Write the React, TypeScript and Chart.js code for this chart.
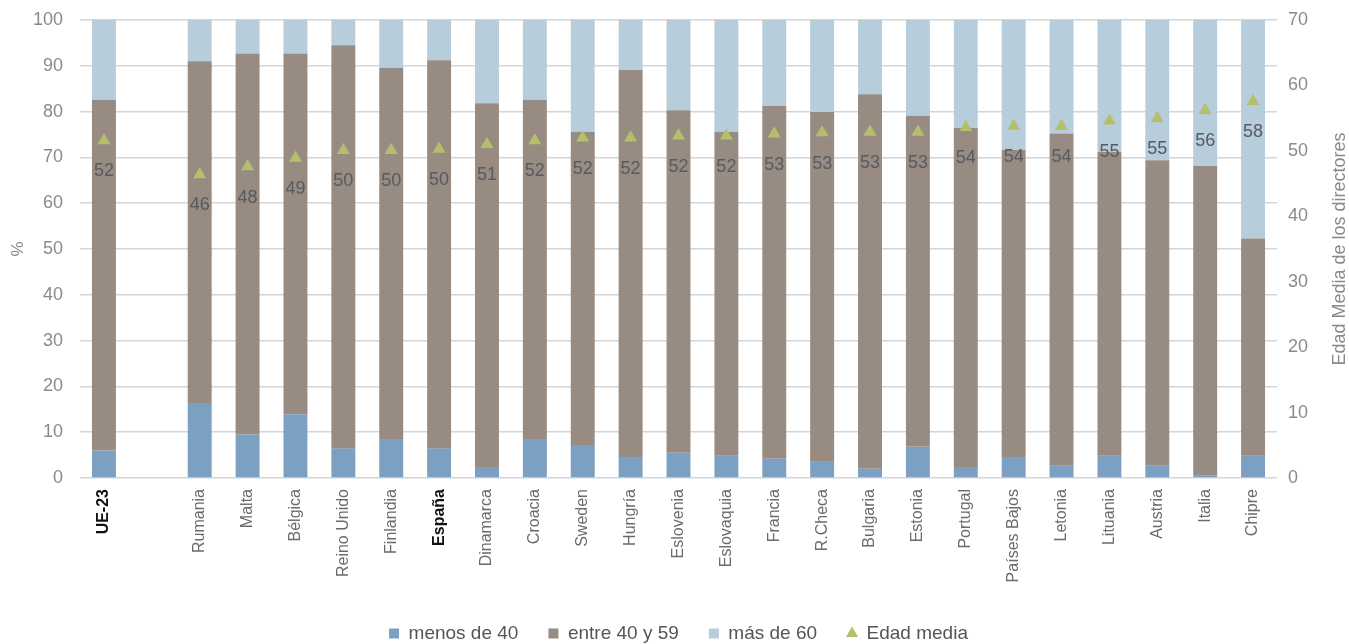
import { useEffect, useRef } from "react";
import { Chart, registerables } from "chart.js";

Chart.register(...registerables);

const categories = [
  "UE-23", "", "Rumania", "Malta", "Bélgica", "Reino Unido", "Finlandia", "España",
  "Dinamarca", "Croacia", "Sweden", "Hungría", "Eslovenia", "Eslovaquia", "Francia",
  "R.Checa", "Bulgaria", "Estonia", "Portugal", "Países Bajos", "Letonia", "Lituania",
  "Austria", "Italia", "Chipre",
];

const menos40 = [6.0, null, 16.4, 9.5, 13.9, 6.4, 8.5, 6.4, 2.4, 8.5, 7.2, 4.6, 5.5, 5.0, 4.2, 3.7, 2.0, 6.8, 2.4, 4.6, 2.8, 5.0, 2.8, 0.5, 5.0];
const entre40y59 = [76.6, null, 74.6, 83.2, 78.8, 88.1, 81.1, 84.8, 79.4, 74.1, 68.4, 84.5, 74.8, 70.6, 77.0, 76.2, 81.8, 72.3, 74.0, 67.0, 72.4, 66.2, 66.6, 67.6, 47.3];
const mas60 = [17.4, null, 9.0, 7.3, 7.3, 5.5, 10.4, 8.8, 18.2, 17.4, 24.4, 10.9, 19.7, 24.4, 18.8, 20.1, 16.2, 20.9, 23.6, 28.4, 24.8, 28.8, 30.6, 31.9, 47.7];
const edadMedia = [51.6, null, 46.4, 47.6, 48.9, 50.1, 50.1, 50.3, 51.0, 51.6, 52.0, 52.0, 52.3, 52.3, 52.6, 52.8, 52.9, 52.9, 53.6, 53.8, 53.8, 54.6, 55.0, 56.2, 57.6];

const leftTicks = [0, 10, 20, 30, 40, 50, 60, 70, 80, 90, 100];
const rightTicks = [0, 10, 20, 30, 40, 50, 60, 70];
const boldCategories = ["UE-23", "España"];

const FONT = "'Liberation Sans', Arial, sans-serif";

export default function App() {
  const ref = useRef<HTMLCanvasElement | null>(null);

  useEffect(() => {
    if (!ref.current) return;

    const labelPlugin = {
      id: "edadLabels",
      afterDatasetsDraw(chart: any) {
        const meta = chart.getDatasetMeta(3);
        const ctx = chart.ctx;
        ctx.save();
        ctx.font = `18px ${FONT}`;
        ctx.fillStyle = "#575a5f";
        ctx.textAlign = "center";
        ctx.textBaseline = "middle";
        meta.data.forEach((pt: any, i: number) => {
          const v = edadMedia[i];
          if (v == null) return;
          ctx.fillText(String(Math.round(v)), pt.x, pt.y + 31);
        });
        ctx.restore();
      },
    };

    const rightTitlePlugin = {
      id: "rightTitle",
      afterDraw(chart: any) {
        const ctx = chart.ctx;
        const area = chart.chartArea;
        ctx.save();
        ctx.translate(1340, (area.top + area.bottom) / 2);
        ctx.rotate(-Math.PI / 2);
        ctx.font = `18px ${FONT}`;
        ctx.fillStyle = "#8a8a8a";
        ctx.textAlign = "center";
        ctx.textBaseline = "middle";
        ctx.fillText("Edad Media de los directores", 0, 0);
        ctx.restore();
      },
    };

    const chart = new Chart(ref.current, {
      type: "bar",
      data: {
        labels: categories,
        datasets: [
          {
            label: "menos de 40",
            data: menos40,
            backgroundColor: "#7ba0c1",
            stack: "s",
            yAxisID: "y",
            order: 2,
            pointStyle: "rect",
          },
          {
            label: "entre 40 y 59",
            data: entre40y59,
            backgroundColor: "#978b82",
            stack: "s",
            yAxisID: "y",
            order: 2,
            pointStyle: "rect",
          },
          {
            label: "más de 60",
            data: mas60,
            backgroundColor: "#b8cddc",
            stack: "s",
            yAxisID: "y",
            order: 2,
            pointStyle: "rect",
          },
          {
            type: "line",
            label: "Edad media",
            data: edadMedia,
            yAxisID: "y1",
            showLine: false,
            pointStyle: "triangle",
            pointRadius: 7.5,
            pointBackgroundColor: "#b4bf6c",
            pointBorderColor: "#b4bf6c",
            backgroundColor: "#b4bf6c",
            borderColor: "#b4bf6c",
            pointBorderWidth: 0,
            order: 0,
          } as any,
        ],
      },
      options: {
        animation: false,
        responsive: true,
        maintainAspectRatio: false,
        layout: { padding: { top: 20, right: 0, left: 8, bottom: -9 } },
        datasets: { bar: { barPercentage: 0.5, categoryPercentage: 1.0 } },
        plugins: {
          tooltip: { enabled: false },
          legend: {
            position: "bottom",
            labels: {
              usePointStyle: true,
              boxWidth: 10,
              boxHeight: 10,
              padding: 30,
              color: "#555555",
              font: { family: FONT, size: 19 },
              sort: (a: any, b: any) => a.datasetIndex - b.datasetIndex,
            },
          },
        },
        scales: {
          x: {
            stacked: true,
            grid: { display: false, drawTicks: false, tickLength: 0 },
            border: { display: false },
            afterFit: (s: any) => {
              s.height = 116;
            },
            ticks: {
              autoSkip: false,
              minRotation: 90,
              maxRotation: 90,
              padding: 11,
              color: (c: any) => (boldCategories.includes(categories[c.index]) ? "#111111" : "#6b6b6b"),
              font: (c: any) => ({
                family: FONT,
                size: 16,
                weight: boldCategories.includes(categories[c.index]) ? "bold" : "normal",
              }),
            },
          },
          y: {
            stacked: true,
            min: 0,
            max: 100,
            position: "left",
            afterBuildTicks: (s: any) => {
              s.ticks = leftTicks.map((v) => ({ value: v }));
            },
            afterFit: (s: any) => {
              s.width = 72;
              s.paddingTop = 0;
              s.paddingBottom = 0;
            },
            grid: { color: "#d2d5da", lineWidth: 1.5, drawTicks: false },
            border: { display: false },
            title: {
              display: true,
              text: "%",
              color: "#8a8a8a",
              font: { family: FONT, size: 17 },
              padding: { top: 0, bottom: 0 },
            },
            ticks: {
              color: "#8a8a8a",
              padding: 17,
              font: { family: FONT, size: 18 },
            },
          },
          y1: {
            min: 0,
            max: 70,
            position: "right",
            afterBuildTicks: (s: any) => {
              s.ticks = rightTicks.map((v) => ({ value: v }));
            },
            afterFit: (s: any) => {
              s.width = 72;
              s.paddingTop = 0;
              s.paddingBottom = 0;
            },
            grid: { display: false, drawTicks: false },
            border: { display: false },
            ticks: {
              color: "#8a8a8a",
              padding: 11,
              font: { family: FONT, size: 18 },
            },
          },
        },
      },
      plugins: [labelPlugin, rightTitlePlugin],
    });

    return () => chart.destroy();
  }, []);

  return (
    <div style={{ position: "absolute", left: 0, top: 0, width: 1349, height: 644, background: "#ffffff" }}>
      <canvas ref={ref} />
    </div>
  );
}
